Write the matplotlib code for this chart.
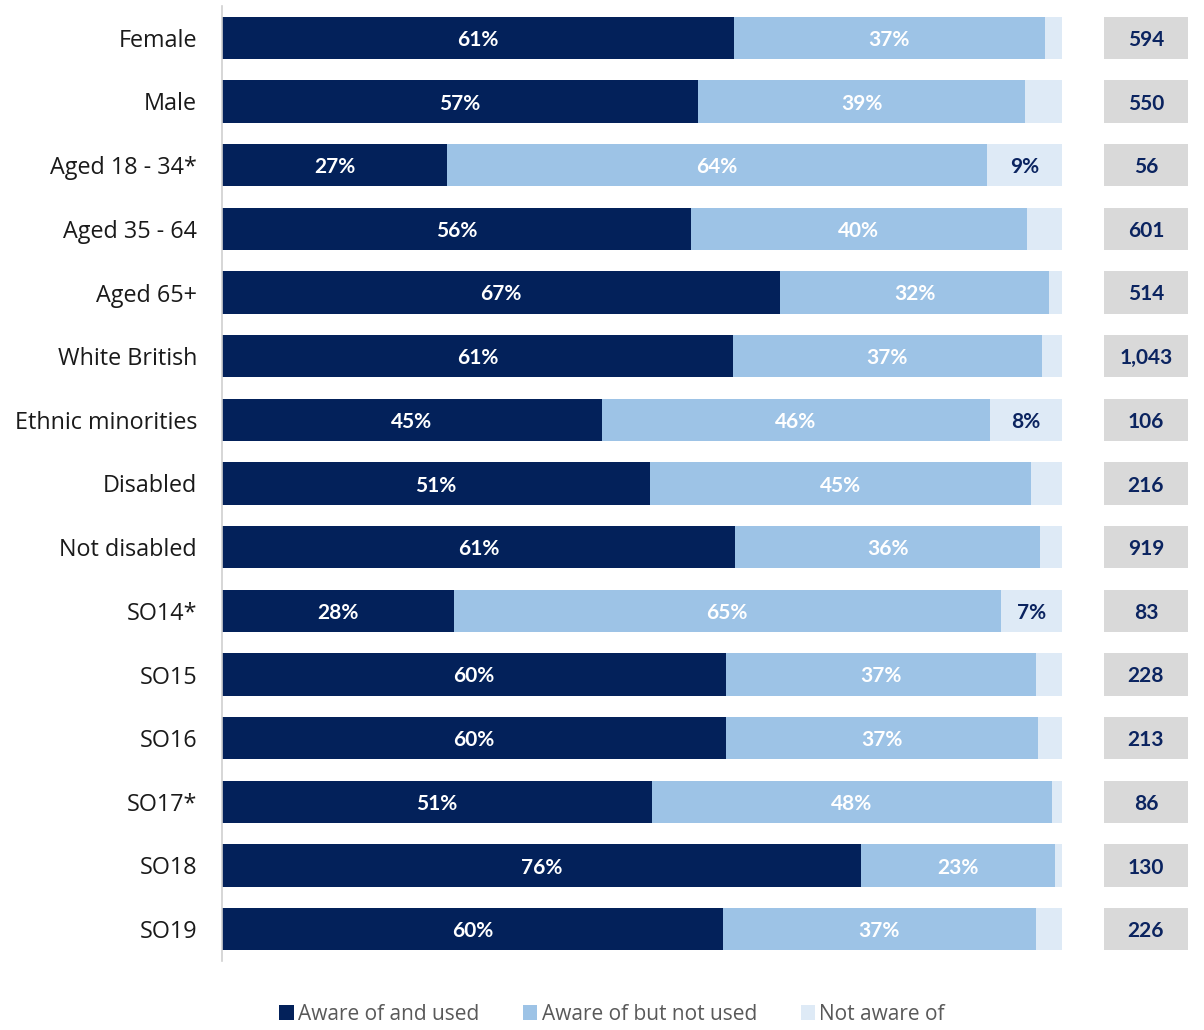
import matplotlib
matplotlib.use("Agg")
import matplotlib.pyplot as plt
from matplotlib.patches import Patch

categories = ["Female", "Male", "Aged 18 - 34*", "Aged 35 - 64", "Aged 65+",
              "White British", "Ethnic minorities", "Disabled", "Not disabled",
              "SO14*", "SO15", "SO16", "SO17*", "SO18", "SO19"]
aware_used = [61, 57, 27, 56, 67, 61, 45, 51, 61, 28, 60, 60, 51, 76, 60]
aware_not_used = [37, 39, 64, 40, 32, 37, 46, 45, 36, 65, 37, 37, 48, 23, 37]
not_aware = [2, 4, 9, 4, 1, 2, 8, 4, 3, 7, 3, 3, 1, 1, 3]
base_n = ["594", "550", "56", "601", "514", "1,043", "106", "216", "919",
          "83", "228", "213", "86", "130", "226"]
series_names = ["Aware of and used", "Aware of but not used", "Not aware of"]

# precise bar extents (percentage shares)
seg1 = [60.95, 56.7, 26.8, 55.8, 66.4, 60.8, 45.2, 51.0, 61.1, 27.6, 60.0, 60.0, 51.2, 76.1, 59.6]
seg2 = [37.0, 38.9, 64.3, 40.0, 32.1, 36.8, 46.2, 45.3, 36.3, 65.1, 36.9, 37.1, 47.6, 23.1, 37.3]

DARK = "#03215A"
MID = "#9DC3E6"
LIGHT = "#DEEAF6"
GRAY = "#D9D9D9"
NAVY = "#0B2460"

fig = plt.figure(figsize=(12.04, 10.30), dpi=100)
ax = fig.add_axes([222/1204, 1 - 961/1030, (1188-222)/1204, (961-6)/1030])

y = list(range(len(categories)))
h = 0.66
s3 = [100 - a - b for a, b in zip(seg1, seg2)]
left2 = seg1
left3 = [a + b for a, b in zip(seg1, seg2)]
ax.barh(y, seg1, height=h, color=DARK, edgecolor="none")
ax.barh(y, seg2, left=left2, height=h, color=MID, edgecolor="none")
ax.barh(y, s3, left=left3, height=h, color=LIGHT, edgecolor="none")

bold = dict(fontfamily="Lato", fontweight="bold", fontsize=15)
for i in y:
    ax.text(seg1[i] / 2, i, f"{aware_used[i]}%", ha="center", va="center_baseline", color="white", **bold)
    ax.text(left2[i] + seg2[i] / 2, i, f"{aware_not_used[i]}%", ha="center", va="center_baseline", color="white", **bold)
    if not_aware[i] >= 5:
        ax.text(left3[i] + s3[i] / 2, i, f"{not_aware[i]}%", ha="center", va="center_baseline", color=NAVY, **bold)

# base-size boxes
box_left = (1104 - 222) / 8.4
box_w = (1188 - 1104) / 8.4
ax.barh(y, [box_w] * len(y), left=box_left, height=h, color=GRAY, edgecolor="none")
for i in y:
    ax.text(box_left + box_w / 2, i, base_n[i], ha="center", va="center_baseline", color=NAVY, **bold)

ax.set_xlim(0, (1188 - 222) / 8.4)
ax.set_ylim(14.5, -0.5)
ax.set_yticks(y)
ax.set_yticklabels(categories, fontfamily="Open Sans", fontsize=16.8, color="#1a1a1a")
ax.tick_params(axis="y", length=0, pad=18)
ax.set_xticks([])
for s in ["top", "right", "bottom"]:
    ax.spines[s].set_visible(False)
ax.spines["left"].set_color("#D0D0D0")
ax.spines["left"].set_linewidth(1.2)

handles = [Patch(facecolor=c, edgecolor="none") for c in (DARK, MID, LIGHT)]
fig.legend(handles, series_names, loc="center", bbox_to_anchor=(612/1204, 1 - 1014/1030),
           ncol=3, frameon=False, prop=dict(family="Open Sans", size=15),
           labelcolor="#595959", handlelength=0.7, handleheight=0.7,
           handletextpad=0.2, columnspacing=2.1)

fig.savefig("out.png", dpi=100)
